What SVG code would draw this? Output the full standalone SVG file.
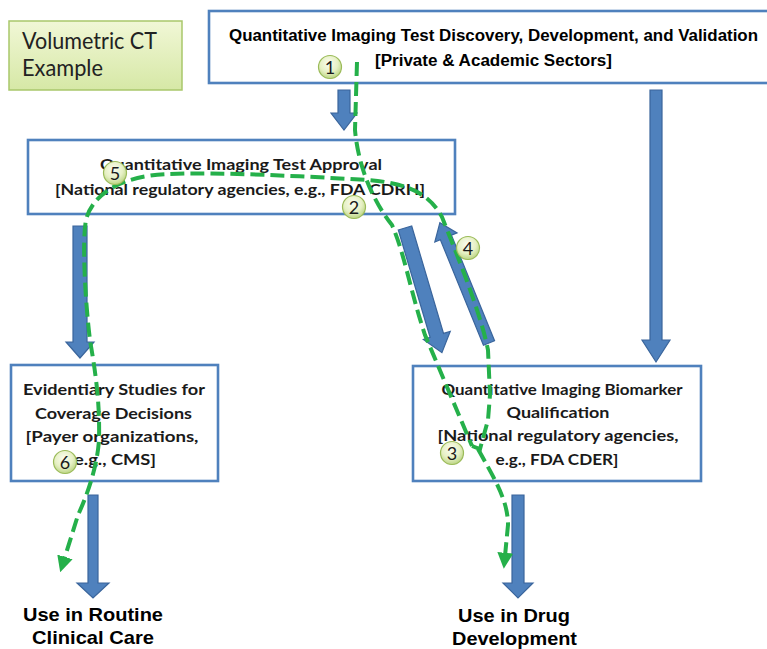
<svg xmlns="http://www.w3.org/2000/svg" width="767" height="649" viewBox="0 0 767 649">
<style>
.box{fill:#fff;stroke:#4f81bd;stroke-width:2.6}
.cal{font-family:Lato,"Open Sans","DejaVu Sans",sans-serif;font-weight:bold;font-size:16px;fill:#1a1a1a;text-anchor:middle}
.ari{font-family:"Liberation Sans",Arial,sans-serif;font-weight:bold;fill:#000;text-anchor:middle}
.blue{fill:#4f81bd;stroke:#3a659c;stroke-width:1.2}
.dash{fill:none;stroke:#25b04a;stroke-width:4;stroke-dasharray:14 6}
.num{font-family:Lato,"Open Sans",sans-serif;font-size:18px;fill:#1a1a1a;text-anchor:middle}
.bub{fill:url(#bg);stroke:#9bbb59;stroke-width:1.2}
</style>
<defs>
<linearGradient id="vg" x1="0" y1="0" x2="0" y2="1">
<stop offset="0" stop-color="#f1f7d6"/>
<stop offset="1" stop-color="#d6e8a6"/>
</linearGradient>
<radialGradient id="bg" cx="0.45" cy="0.35" r="0.65">
<stop offset="0" stop-color="#fbfdf0"/>
<stop offset="0.6" stop-color="#e6f0c4"/>
<stop offset="1" stop-color="#bcd585"/>
</radialGradient>
<marker id="gh" viewBox="0 0 10 10" refX="2" refY="5" markerWidth="4" markerHeight="4" orient="auto" markerUnits="strokeWidth">
<path d="M0,0 L10,5 L0,10 Z" fill="#25b04a"/>
</marker>
</defs>
<rect width="767" height="649" fill="#fff"/>

<g id="volumetric">
<rect x="9" y="21" width="173" height="69" fill="url(#vg)" stroke="#a9c76b" stroke-width="1.5"/>
<text x="22" y="49" font-family="Lato,'Open Sans',sans-serif" font-size="24" fill="#222" textLength="135" lengthAdjust="spacingAndGlyphs">Volumetric CT</text>
<text x="22" y="76" font-family="Lato,'Open Sans',sans-serif" font-size="24" fill="#222" textLength="81" lengthAdjust="spacingAndGlyphs">Example</text>
</g>

<g id="discovery">
<rect class="box" x="209" y="11" width="570" height="72"/>
<text class="ari" x="493.5" y="41" font-size="16" textLength="529" lengthAdjust="spacingAndGlyphs">Quantitative Imaging Test Discovery, Development, and Validation</text>
<text class="ari" x="493.5" y="66" font-size="16" textLength="237" lengthAdjust="spacingAndGlyphs">[Private &amp; Academic Sectors]</text>
</g>

<g id="approval">
<rect class="box" x="28" y="140" width="427" height="74"/>
<text class="cal" x="241" y="170" font-size="18" textLength="282" lengthAdjust="spacingAndGlyphs">Quantitative Imaging Test Approval</text>
<text class="cal" x="240" y="195" font-size="18" textLength="370" lengthAdjust="spacingAndGlyphs">[National regulatory agencies, e.g., FDA CDRH]</text>
</g>

<g id="evidentiary">
<rect class="box" x="11" y="365" width="207" height="116"/>
<text class="cal" x="114" y="395" textLength="182" lengthAdjust="spacingAndGlyphs">Evidentiary Studies for</text>
<text class="cal" x="113.5" y="419" textLength="157" lengthAdjust="spacingAndGlyphs">Coverage Decisions</text>
<text class="cal" x="112" y="442" textLength="173" lengthAdjust="spacingAndGlyphs">[Payer organizations,</text>
<text class="cal" x="115" y="465" textLength="82" lengthAdjust="spacingAndGlyphs">e.g., CMS]</text>
</g>

<g id="biomarker">
<rect class="box" x="413" y="366" width="288" height="115"/>
<text class="cal" x="562" y="395" textLength="241" lengthAdjust="spacingAndGlyphs">Quantitative Imaging Biomarker</text>
<text class="cal" x="558" y="418" textLength="103" lengthAdjust="spacingAndGlyphs">Qualification</text>
<text class="cal" x="558" y="441" textLength="241" lengthAdjust="spacingAndGlyphs">[National regulatory agencies,</text>
<text class="cal" x="557" y="465" textLength="123" lengthAdjust="spacingAndGlyphs">e.g., FDA CDER]</text>
</g>

<g id="routine">
<text class="ari" x="93" y="621" font-size="19" textLength="140" lengthAdjust="spacingAndGlyphs">Use in Routine</text>
<text class="ari" x="93" y="644" font-size="19" textLength="122" lengthAdjust="spacingAndGlyphs">Clinical Care</text>
</g>

<g id="drug">
<text class="ari" x="514" y="622" font-size="19" textLength="112" lengthAdjust="spacingAndGlyphs">Use in Drug</text>
<text class="ari" x="514.5" y="645" font-size="19" textLength="125" lengthAdjust="spacingAndGlyphs">Development</text>
</g>

<g id="connectors">
<path class="blue" transform="translate(344,90)" d="M-6,0 H6 V23 H13 L0,40 L-13,23 H-6 Z"/>
<path class="blue" transform="translate(656,90)" d="M-6,0 H6 V250 H14 L0,272 L-14,250 H-6 Z"/>
<path class="blue" transform="translate(80,226)" d="M-7,0 H7 V116 H14 L0,132 L-14,116 H-7 Z"/>
<path class="blue" transform="translate(93,495)" d="M-5,0 H5 V88 H16 L0,103 L-16,88 H-5 Z"/>
<path class="blue" transform="translate(518,495)" d="M-6,0 H6 V88 H15 L0,103 L-15,88 H-6 Z"/>
<path class="blue" transform="translate(405,228) rotate(-16.5)" d="M-7,0 H7 V112 H14 L0,130 L-14,112 H-7 Z"/>
<path class="blue" transform="translate(489,343) rotate(157.8)" d="M-6,0 H6 V114 H12 L0,130 L-12,114 H-6 Z"/>

<path class="dash" d="M357,62 L355,130 C358,165 372,200 392,225 C405,255 410,290 425,335 L472,446"/>
<path class="dash" marker-end="url(#gh)" d="M478,449 C494,478 508,500 508,525 L505,556"/>
<path class="dash" marker-end="url(#gh)" d="M472,446 L480,449 L488,420 L490,395 L488,350 C480,310 455,250 442,217 C430,195 410,183 367,180 C300,176 220,172 167,174 C120,176 92,195 86,220 C82,240 85,300 90,340 C95,370 100,400 99,440 C97,470 85,500 78,515 L64,560"/>
</g>

<g id="step1"><circle class="bub" cx="330" cy="67" r="11.5"/><text class="num" x="330" y="73.5">1</text></g>
<g id="step2"><circle class="bub" cx="354" cy="207" r="11.5"/><text class="num" x="354" y="213.5">2</text></g>
<g id="step3"><circle class="bub" cx="452" cy="453" r="11.5"/><text class="num" x="452" y="459.5">3</text></g>
<g id="step4"><circle class="bub" cx="468" cy="248" r="11.5"/><text class="num" x="468" y="254.5">4</text></g>
<g id="step5"><circle class="bub" cx="115" cy="173" r="11.5"/><text class="num" x="115" y="179.5">5</text></g>
<g id="step6"><circle class="bub" cx="65" cy="462" r="11.5"/><text class="num" x="65" y="468.5">6</text></g>
</svg>
